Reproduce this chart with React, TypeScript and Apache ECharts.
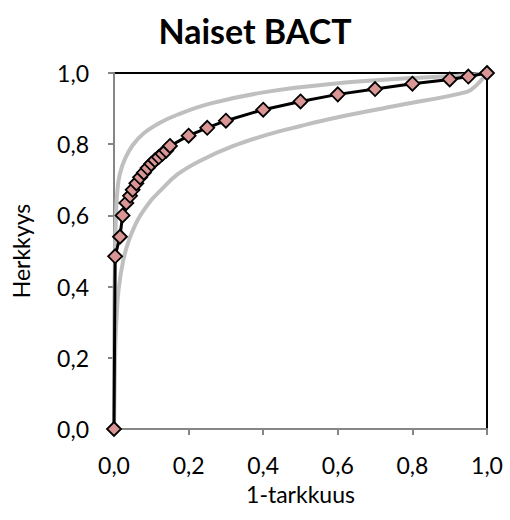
import React, { useEffect, useRef } from "react";
import * as echarts from "echarts";

const rocX = [0, 0.003, 0.016, 0.023, 0.033, 0.043, 0.05, 0.06, 0.07, 0.08, 0.09, 0.1, 0.11, 0.12, 0.13, 0.14, 0.15, 0.2, 0.25, 0.3, 0.4, 0.5, 0.6, 0.7, 0.8, 0.9, 0.95, 1.0];
const rocY = [0, 0.485, 0.54, 0.6, 0.635, 0.655, 0.672, 0.69, 0.707, 0.72, 0.733, 0.745, 0.755, 0.764, 0.773, 0.782, 0.795, 0.824, 0.846, 0.866, 0.897, 0.92, 0.94, 0.955, 0.97, 0.982, 0.99, 1.0];

const upperX = [0, 0.001, 0.003, 0.006, 0.01, 0.016, 0.03, 0.05, 0.079, 0.123, 0.168, 0.257, 0.409, 0.588, 0.767, 0.946, 1.0];
const upperY = [0, 0.35, 0.5, 0.62, 0.68, 0.718, 0.76, 0.797, 0.83, 0.86, 0.882, 0.914, 0.947, 0.97, 0.984, 0.994, 1.0];

const lowerX = [0, 0.002, 0.004, 0.007, 0.012, 0.025, 0.04, 0.065, 0.1, 0.123, 0.17, 0.23, 0.32, 0.409, 0.5, 0.588, 0.767, 0.946, 0.972, 1.0];
const lowerY = [0, 0.15, 0.25, 0.315, 0.39, 0.475, 0.53, 0.59, 0.643, 0.668, 0.715, 0.753, 0.795, 0.826, 0.851, 0.873, 0.91, 0.947, 0.966, 1.0];

const title = "Naiset BACT";
const xName = "1-tarkkuus";
const yName = "Herkkyys";

const zip = (xs: number[], ys: number[]) => xs.map((x, i) => [x, ys[i]]);
const fmt = (v: number) => v.toFixed(1).replace(".", ",");

export default function App() {
  const ref = useRef<HTMLDivElement>(null);
  useEffect(() => {
    if (!ref.current) return;
    const chart = echarts.init(ref.current, null, { renderer: "svg" });
    const font = "Lato, 'Open Sans', sans-serif";
    chart.setOption({
      animation: false,
      backgroundColor: "#ffffff",
      title: {
        text: title,
        left: "center",
        top: 8,
        textStyle: { fontFamily: font, fontSize: 34, fontWeight: "bold", color: "#000" },
      },
      grid: {
        left: 114,
        right: 23,
        top: 73,
        bottom: 91,
        show: true,
        borderColor: "#000",
        borderWidth: 2,
        backgroundColor: "transparent",
      },
      xAxis: {
        type: "value",
        min: 0,
        max: 1,
        interval: 0.2,
        name: xName,
        nameLocation: "middle",
        nameGap: 53,
        nameTextStyle: { fontFamily: font, fontSize: 23, color: "#000" },
        axisLine: { show: true, onZero: false, lineStyle: { color: "#868686", width: 2 } },
        axisTick: { show: true, inside: false, length: 6, lineStyle: { color: "#868686", width: 2 } },
        axisLabel: { formatter: fmt, fontFamily: font, fontSize: 23, color: "#000", margin: 24 },
        splitLine: { show: false },
      },
      yAxis: {
        type: "value",
        min: 0,
        max: 1,
        interval: 0.2,
        name: yName,
        nameLocation: "middle",
        nameGap: 82,
        nameRotate: 90,
        nameTextStyle: { fontFamily: font, fontSize: 23, color: "#000" },
        axisLine: { show: true, onZero: false, lineStyle: { color: "#868686", width: 2 } },
        axisTick: { show: true, inside: false, length: 6, lineStyle: { color: "#868686", width: 2 } },
        axisLabel: { formatter: fmt, fontFamily: font, fontSize: 23, color: "#000", margin: 25 },
        splitLine: { show: false },
      },
      series: [
        {
          type: "line",
          data: zip(lowerX, lowerY),
          smooth: 0.4,
          showSymbol: false,
          symbol: "none",
          lineStyle: { color: "#BFBFBF", width: 4 },
          z: 2,
        },
        {
          type: "line",
          data: zip(upperX, upperY),
          smooth: 0.4,
          showSymbol: false,
          symbol: "none",
          lineStyle: { color: "#BFBFBF", width: 4 },
          z: 2,
        },
        {
          type: "line",
          data: zip(rocX, rocY),
          symbol: "diamond",
          symbolSize: 14,
          lineStyle: { color: "#000", width: 3 },
          itemStyle: { color: "#D99694", borderColor: "#000", borderWidth: 1.8 },
          z: 3,
        },
      ],
    });
    return () => chart.dispose();
  }, []);
  return (
    <div
      ref={ref}
      style={{ position: "fixed", left: 0, top: 0, width: 510, height: 520, background: "#fff" }}
    />
  );
}
